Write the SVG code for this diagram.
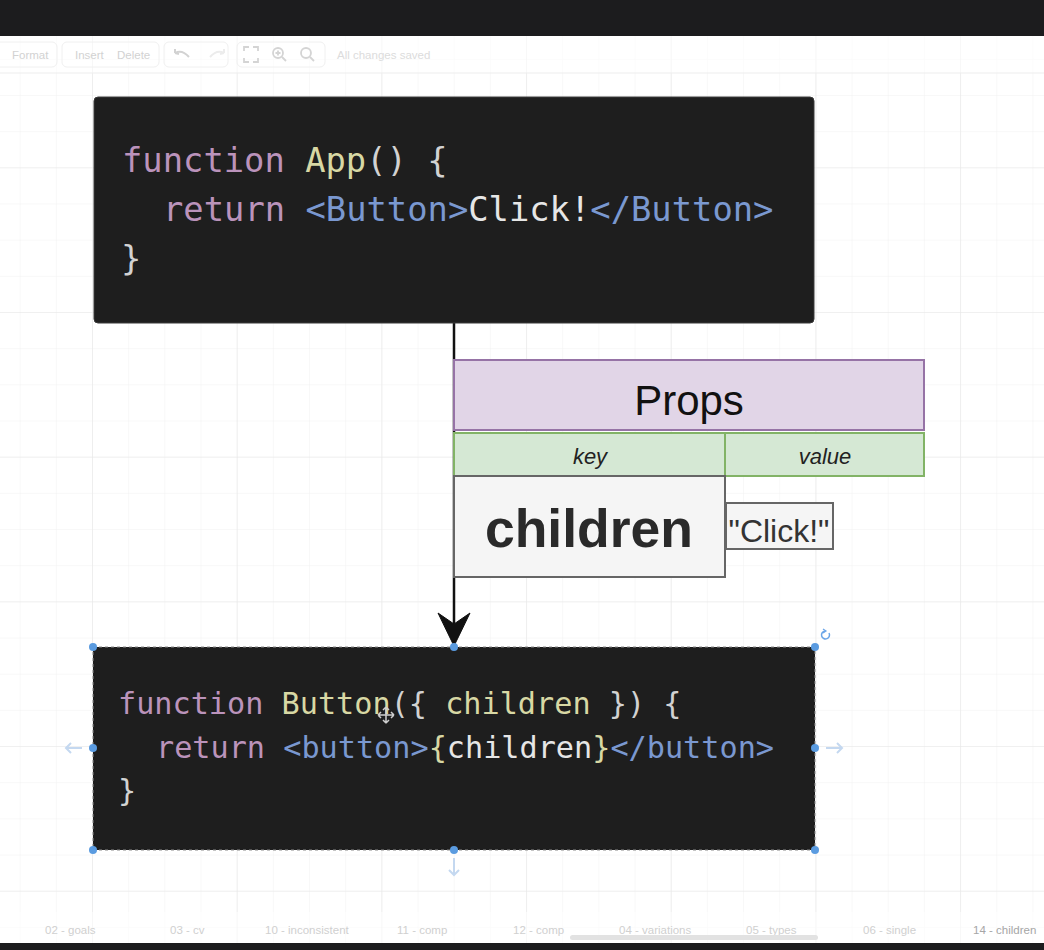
<svg xmlns="http://www.w3.org/2000/svg" width="1044" height="950" viewBox="0 0 1044 950">
<defs>
<style>
.code{font-family:"DejaVu Sans Mono","Liberation Mono",monospace;}
.kw{fill:#bb93bb}
.fn{fill:#d8d8a4}
.pn{fill:#d2d2d2}
.tg{fill:#7a98d0}
.tx{fill:#e6e6e6}
.sans{font-family:"Liberation Sans",Arial,sans-serif}
.tb{font-family:"Liberation Sans",Arial,sans-serif;font-size:11.5px;fill:#d2d2d2}
.tab{font-family:"Liberation Sans",Arial,sans-serif;font-size:11.5px;fill:#d0d0d0}
.h{fill:#5a9be0}
.hint{fill:none;stroke:#c4d8f0;stroke-width:2}
</style>
<pattern id="gmin" patternUnits="userSpaceOnUse" x="92" y="312" width="36.17" height="36.17">
<path d="M36.17 0H0V36.17" fill="none" stroke="#f1f1f1" stroke-width="1"/>
</pattern>
<pattern id="gmaj" patternUnits="userSpaceOnUse" x="92" y="312" width="144.68" height="144.68">
<path d="M144.68 0H0V144.68" fill="none" stroke="#e7e7e7" stroke-width="1.2"/>
</pattern>
</defs>

<!-- background + grid -->
<rect width="1044" height="950" fill="#ffffff"/>
<rect width="1044" height="950" fill="url(#gmin)"/>
<rect width="1044" height="950" fill="url(#gmaj)"/>

<!-- toolbar (faded) -->
<g id="toolbar">
<rect x="0" y="36" width="1044" height="37" fill="#ffffff" opacity="0.55"/>
<line x1="0" y1="73" x2="1044" y2="73" stroke="#ededed"/>
<rect x="-10" y="42" width="67" height="25" rx="5" fill="none" stroke="#f0f0f0"/>
<rect x="62" y="42" width="97" height="25" rx="5" fill="none" stroke="#f0f0f0"/>
<rect x="164" y="42" width="64" height="25" rx="5" fill="none" stroke="#f0f0f0"/>
<rect x="237" y="42" width="88" height="25" rx="5" fill="none" stroke="#f0f0f0"/>
<text class="tb" x="12" y="59">Format</text>
<text class="tb" x="75" y="59">Insert</text>
<text class="tb" x="117" y="59">Delete</text>
<path d="M175 53 Q182 49 189 57 M175 53 L175 49 M175 53 L179 54" fill="none" stroke="#d2d2d2" stroke-width="2"/>
<path d="M224 53 Q217 49 210 57 M224 53 L224 49 M224 53 L220 54" fill="none" stroke="#ececec" stroke-width="2"/>
<path d="M244 51V47H249 M253 47H258V51 M258 58V62H253 M249 62H244V58" fill="none" stroke="#d4d4d4" stroke-width="1.8"/>
<circle cx="278" cy="53" r="5" fill="none" stroke="#d4d4d4" stroke-width="1.8"/>
<path d="M282 57L286 61 M275.5 53H280.5 M278 50.5V55.5" fill="none" stroke="#d4d4d4" stroke-width="1.8"/>
<circle cx="306" cy="53" r="5" fill="none" stroke="#d4d4d4" stroke-width="1.8"/>
<path d="M310 57L314 61" fill="none" stroke="#d4d4d4" stroke-width="1.8"/>
<text class="tb" x="337" y="59" style="fill:#dcdcdc">All changes saved</text>
</g>

<!-- top app bar -->
<rect x="0" y="0" width="1044" height="36" fill="#1c1c1e"/>

<!-- connectors -->
<g id="connectors">
<line x1="454" y1="323" x2="454" y2="630" stroke="#111111" stroke-width="2.5"/>
<path d="M454 646 L438 613 L454 624 L470 613 Z" fill="#111111" stroke="#111111" stroke-width="1" stroke-linejoin="miter"/>
</g>

<!-- App code block -->
<g id="app-code">
<rect x="94" y="97" width="720" height="226" rx="4" fill="#1e1e1e" stroke="#3a3a3a" stroke-width="1"/>
<text class="code" font-size="33.8" x="122" y="172" xml:space="preserve"><tspan class="kw">function</tspan><tspan class="pn"> </tspan><tspan class="fn">App</tspan><tspan class="pn">() {</tspan></text>
<text class="code" font-size="33.8" x="163" y="221" xml:space="preserve"><tspan class="kw">return</tspan><tspan class="pn"> </tspan><tspan class="tg">&lt;Button&gt;</tspan><tspan class="tx">Click!</tspan><tspan class="tg">&lt;/Button&gt;</tspan></text>
<text class="code pn" font-size="33.8" x="121" y="270">}</text>
</g>

<!-- Props table -->
<g id="props">
<rect x="454" y="360" width="470" height="70" fill="#e1d5e7" stroke="#9673a6" stroke-width="2"/>
<text class="sans" x="689" y="415" font-size="42" text-anchor="middle" fill="#111111">Props</text>
</g>
<g id="key-header">
<rect x="454" y="433" width="271" height="43" fill="#d5e8d4" stroke="#82b366" stroke-width="2"/>
<text class="sans" x="590" y="464" font-size="22" font-style="italic" text-anchor="middle" fill="#222222">key</text>
</g>
<g id="value-header">
<rect x="725" y="433" width="199" height="43" fill="#d5e8d4" stroke="#82b366" stroke-width="2"/>
<text class="sans" x="825" y="464" font-size="22" font-style="italic" text-anchor="middle" fill="#222222">value</text>
</g>
<g id="children-key">
<rect x="454" y="476" width="271" height="101" fill="#f5f5f5" stroke="#666666" stroke-width="2"/>
<text class="sans" x="589" y="547" font-size="53.5" font-weight="bold" text-anchor="middle" fill="#2a2a2a">children</text>
</g>
<g id="click-value">
<rect x="726" y="503" width="107" height="46" fill="#f5f5f5" stroke="#666666" stroke-width="2"/>
<text class="sans" x="779" y="542" font-size="32" text-anchor="middle" fill="#333333">"Click!"</text>
</g>

<!-- Button code block (selected) -->
<g id="button-code">
<rect x="93" y="647" width="722" height="203" fill="#1e1e1e"/>
<rect x="93" y="647" width="722" height="203" fill="none" stroke="#8a8a8a" stroke-width="1" stroke-dasharray="3 3"/>
<text class="code" font-size="30.2" x="118" y="714" xml:space="preserve"><tspan class="kw">function</tspan><tspan class="pn"> </tspan><tspan class="fn">Button</tspan><tspan class="pn">({ </tspan><tspan class="fn">children</tspan><tspan class="pn"> }) {</tspan></text>
<text class="code" font-size="30.2" x="156" y="758" xml:space="preserve"><tspan class="kw">return</tspan><tspan class="pn"> </tspan><tspan class="tg">&lt;button&gt;</tspan><tspan class="fn">{</tspan><tspan class="tx">children</tspan><tspan class="fn">}</tspan><tspan class="tg">&lt;/button&gt;</tspan></text>
<text class="code pn" font-size="30.2" x="118" y="801">}</text>
<path d="M386 707V723 M378 715H394 M386 707l-3 3 M386 707l3 3 M386 723l-3 -3 M386 723l3 -3 M378 715l3 -3 M378 715l3 3 M394 715l-3 -3 M394 715l-3 3" fill="none" stroke="#cfcfcf" stroke-width="1.5"/>
</g>

<!-- selection handles -->
<g id="selection">
<circle class="h" cx="93" cy="647" r="4"/>
<circle class="h" cx="454" cy="647" r="4"/>
<circle class="h" cx="815" cy="647" r="4"/>
<circle class="h" cx="93" cy="748" r="4"/>
<circle class="h" cx="815" cy="748" r="4"/>
<circle class="h" cx="93" cy="850" r="4"/>
<circle class="h" cx="454" cy="850" r="4"/>
<circle class="h" cx="815" cy="850" r="4"/>
<path d="M829 633 A4 4 0 1 1 825 631" fill="none" stroke="#6aa5e8" stroke-width="1.5"/>
<path d="M823 629 L826 631 L823 633" fill="none" stroke="#6aa5e8" stroke-width="1.2"/>
<path class="hint" d="M82 748H66 M71 743L66 748L71 753"/>
<path class="hint" d="M826 748H842 M837 743L842 748L837 753"/>
<path class="hint" d="M454 858V875 M449 870L454 875L459 870"/>
</g>

<!-- page tabs (faded) -->
<g id="tabs">
<rect x="0" y="912" width="1044" height="31" fill="#ffffff" opacity="0.55"/>
<text class="tab" x="45" y="934">02 - goals</text>
<text class="tab" x="170" y="934">03 - cv</text>
<text class="tab" x="265" y="934">10 - inconsistent</text>
<text class="tab" x="397" y="934">11 - comp</text>
<text class="tab" x="513" y="934">12 - comp</text>
<text class="tab" x="619" y="934">04 - variations</text>
<text class="tab" x="746" y="934">05 - types</text>
<text class="tab" x="863" y="934">06 - single</text>
<text class="tab" x="973" y="934" style="fill:#a6a6a6">14 - children</text>
<rect x="570" y="935" width="248" height="5" rx="2.5" fill="#e2e2e2"/>
</g>
<rect x="0" y="943" width="1044" height="7" fill="#1c1c1e"/>
</svg>
